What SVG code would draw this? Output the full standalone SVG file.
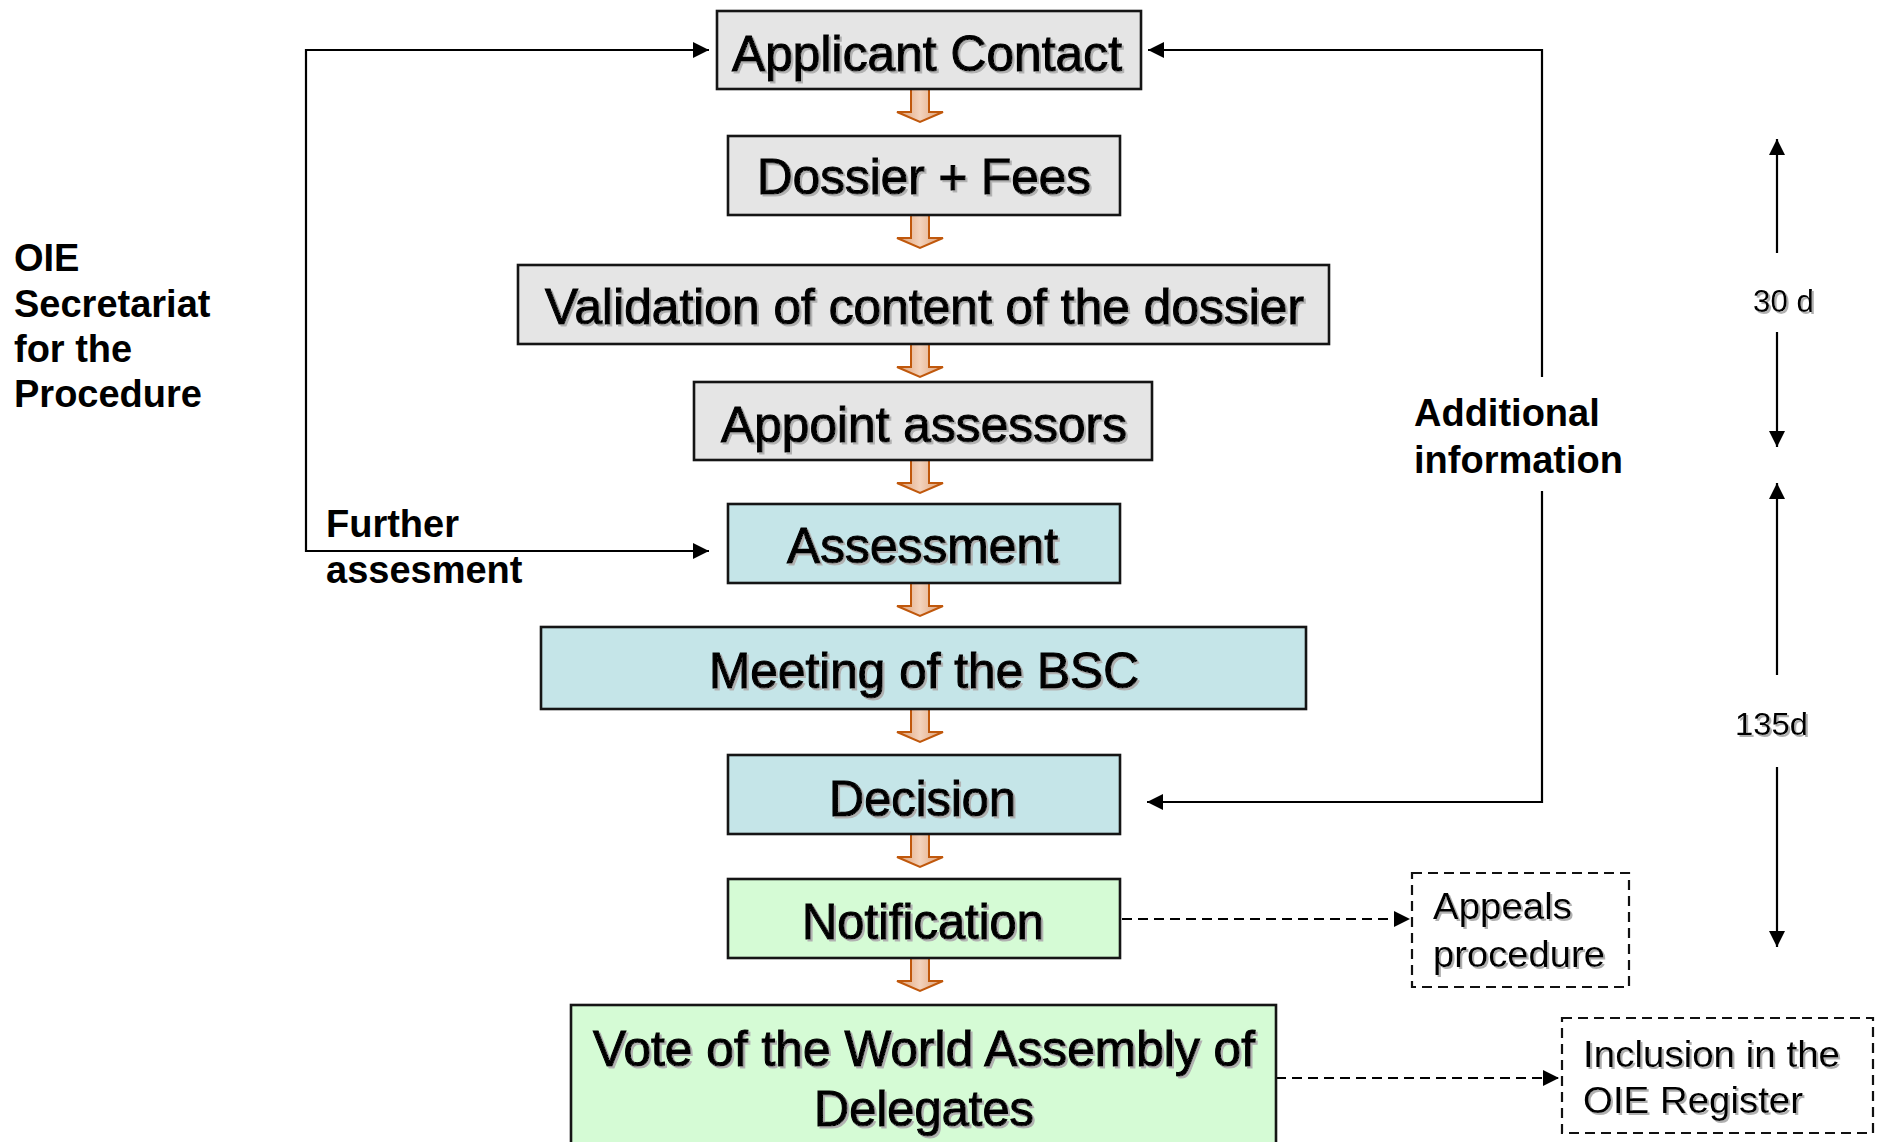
<svg xmlns="http://www.w3.org/2000/svg" width="1880" height="1142" viewBox="0 0 1880 1142">
<style>
.box{stroke:#151515;stroke-width:2.6}
.gray{fill:#e5e5e5}
.cyan{fill:#c5e5e8}
.green{fill:#d5fbd5}
.dbox{fill:none;stroke:#111;stroke-width:2.2;stroke-dasharray:10 6}
.t{font-family:"Liberation Sans",Arial,sans-serif;font-size:50px;fill:#000;stroke:#000;stroke-width:1.1;filter:url(#sh)}
.lab{font-family:"Liberation Sans",Arial,sans-serif;font-size:38px;font-weight:bold;fill:#000}
.side{font-family:"Liberation Sans",Arial,sans-serif;font-size:36px;fill:#000;filter:url(#sh)}
.tl{font-family:"Liberation Sans",Arial,sans-serif;font-size:31px;fill:#000;filter:url(#sh)}
.ln{fill:none;stroke:#000;stroke-width:2.2}
.dl{fill:none;stroke:#000;stroke-width:2.2;stroke-dasharray:10 6}
.oa{fill:url(#og);stroke:#c0580c;stroke-width:2}
</style>
<defs>
<filter id="sh" x="-5%" y="-20%" width="110%" height="140%">
<feDropShadow dx="2" dy="2" stdDeviation="0.6" flood-color="#b0b0b0" flood-opacity="1"/>
</filter>
<linearGradient id="og" x1="0" y1="0" x2="1" y2="0">
<stop offset="0" stop-color="#dc9c70"/>
<stop offset="0.5" stop-color="#f3d3bd"/>
<stop offset="1" stop-color="#dc9c70"/>
</linearGradient>
<marker id="ah" viewBox="0 0 16 16" refX="16" refY="8" markerWidth="16" markerHeight="16" markerUnits="userSpaceOnUse" orient="auto-start-reverse">
<path d="M0,0 L16,8 L0,16 Z" fill="#000"/>
</marker>
<path id="oarrow" class="oa" d="M911,0 H929 V23 H943 L920,33 L897,23 H911 Z"/>
</defs>
<rect width="1880" height="1142" fill="#fff"/>

<g id="connectors">
<use href="#oarrow" y="89"/>
<use href="#oarrow" y="215"/>
<use href="#oarrow" y="344"/>
<use href="#oarrow" y="460"/>
<use href="#oarrow" y="583"/>
<use href="#oarrow" y="709"/>
<use href="#oarrow" y="834"/>
<use href="#oarrow" y="958"/>
<path class="ln" d="M709,50 H306 V551 H709" marker-start="url(#ah)" marker-end="url(#ah)"/>
<path class="ln" d="M1542,377 V50 H1148" marker-end="url(#ah)"/>
<path class="ln" d="M1542,491 V802 H1147" marker-end="url(#ah)"/>
<path class="dl" d="M1122,919 H1410" marker-end="url(#ah)"/>
<path class="dl" d="M1276,1078 H1559" marker-end="url(#ah)"/>
<path class="ln" d="M1777,253 V139" marker-end="url(#ah)"/>
<path class="ln" d="M1777,332 V447" marker-end="url(#ah)"/>
<path class="ln" d="M1777,675 V483" marker-end="url(#ah)"/>
<path class="ln" d="M1777,767 V947" marker-end="url(#ah)"/>
</g>

<g id="applicant-contact">
<rect class="box gray" x="717" y="11" width="424" height="78"/>
<text class="t" x="732" y="71" textLength="390" lengthAdjust="spacingAndGlyphs">Applicant Contact</text>
</g>
<g id="dossier-fees">
<rect class="box gray" x="728" y="136" width="392" height="79"/>
<text class="t" x="757" y="194" textLength="334" lengthAdjust="spacingAndGlyphs">Dossier + Fees</text>
</g>
<g id="validation">
<rect class="box gray" x="518" y="265" width="811" height="79"/>
<text class="t" x="545" y="324" textLength="759" lengthAdjust="spacingAndGlyphs">Validation of content of the dossier</text>
</g>
<g id="appoint-assessors">
<rect class="box gray" x="694" y="382" width="458" height="78"/>
<text class="t" x="721" y="442" textLength="406" lengthAdjust="spacingAndGlyphs">Appoint assessors</text>
</g>
<g id="assessment">
<rect class="box cyan" x="728" y="504" width="392" height="79"/>
<text class="t" x="787" y="563" textLength="271" lengthAdjust="spacingAndGlyphs">Assessment</text>
</g>
<g id="meeting-bsc">
<rect class="box cyan" x="541" y="627" width="765" height="82"/>
<text class="t" x="709" y="688" textLength="430" lengthAdjust="spacingAndGlyphs">Meeting of the BSC</text>
</g>
<g id="decision">
<rect class="box cyan" x="728" y="755" width="392" height="79"/>
<text class="t" x="829" y="816" textLength="187" lengthAdjust="spacingAndGlyphs">Decision</text>
</g>
<g id="notification">
<rect class="box green" x="728" y="879" width="392" height="79"/>
<text class="t" x="802" y="939" textLength="242" lengthAdjust="spacingAndGlyphs">Notification</text>
</g>
<g id="vote">
<rect class="box green" x="571" y="1005" width="705" height="160"/>
<text class="t" x="593" y="1066" textLength="662" lengthAdjust="spacingAndGlyphs">Vote of the World Assembly of</text>
<text class="t" x="814" y="1126" textLength="220" lengthAdjust="spacingAndGlyphs">Delegates</text>
</g>
<g id="appeals">
<rect class="dbox" x="1412" y="873" width="217" height="114"/>
<text class="side" x="1433" y="919" textLength="139" lengthAdjust="spacingAndGlyphs">Appeals</text>
<text class="side" x="1433" y="967" textLength="172" lengthAdjust="spacingAndGlyphs">procedure</text>
</g>
<g id="inclusion">
<rect class="dbox" x="1562" y="1018" width="311" height="115"/>
<text class="side" x="1583" y="1067" textLength="257" lengthAdjust="spacingAndGlyphs">Inclusion in the</text>
<text class="side" x="1583" y="1113" textLength="220" lengthAdjust="spacingAndGlyphs">OIE Register</text>
</g>
<g id="oie-secretariat">
<text class="lab" x="14" y="271">OIE</text>
<text class="lab" x="14" y="317">Secretariat</text>
<text class="lab" x="14" y="362">for the</text>
<text class="lab" x="14" y="407">Procedure</text>
</g>
<g id="further-assessment">
<text class="lab" x="326" y="537">Further</text>
<text class="lab" x="326" y="583">assesment</text>
</g>
<g id="additional-information">
<text class="lab" x="1414" y="426">Additional</text>
<text class="lab" x="1414" y="473">information</text>
</g>
<g id="timeline">
<text class="tl" x="1753" y="312" textLength="61" lengthAdjust="spacingAndGlyphs">30 d</text>
<text class="tl" x="1735" y="735" textLength="73" lengthAdjust="spacingAndGlyphs">135d</text>
</g>
</svg>
